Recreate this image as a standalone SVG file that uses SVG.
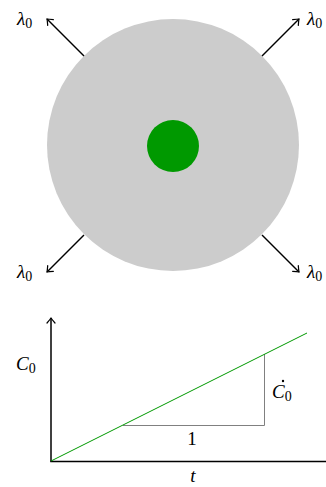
<svg xmlns="http://www.w3.org/2000/svg" width="326" height="487" viewBox="0 0 326 487">
<style>
text{font-family:'Liberation Serif','Times New Roman','DejaVu Serif',serif;font-size:19px;fill:#000}
.it{font-style:italic}
.sub{font-size:14px;font-style:normal}
.ax{stroke:#000;stroke-width:1.5;fill:none}
</style>
<defs>
<marker id="ah" viewBox="-6 -5 8 10" refX="0" refY="0" markerWidth="8" markerHeight="10" markerUnits="userSpaceOnUse" orient="auto">
<path d="M-5,-4 Q-1.5,-1 0,0 Q-1.5,1 -5,4" fill="none" stroke="#000" stroke-width="1.2" stroke-linecap="round"/>
</marker>
</defs>
<g id="outer"><circle cx="173" cy="145" r="126" fill="#cccccc"/></g>
<g id="inner"><circle cx="173" cy="146" r="26" fill="#009900"/></g>
<g id="connectors">
<line class="ax" x1="84" y1="56" x2="47" y2="19" marker-end="url(#ah)"/>
<line class="ax" x1="262" y1="56" x2="299" y2="19" marker-end="url(#ah)"/>
<line class="ax" x1="84" y1="235" x2="47" y2="272" marker-end="url(#ah)"/>
<line class="ax" x1="262" y1="235" x2="299" y2="272" marker-end="url(#ah)"/>
<line class="ax" x1="51" y1="461.5" x2="51" y2="318" marker-end="url(#ah)"/>
<line class="ax" x1="50.25" y1="461.5" x2="326" y2="461.5"/>
<polyline points="123,425.5 264.5,425.5 264.5,354" fill="none" stroke="#808080" stroke-width="1"/>
<line x1="51" y1="461" x2="307" y2="333" stroke="#009900" stroke-width="1"/>
</g>
<g id="labels">
<text x="17" y="25"><tspan class="it">λ</tspan><tspan class="sub" dy="3">0</tspan></text>
<text x="307" y="25"><tspan class="it">λ</tspan><tspan class="sub" dy="3">0</tspan></text>
<text x="17" y="278"><tspan class="it">λ</tspan><tspan class="sub" dy="3">0</tspan></text>
<text x="307" y="278"><tspan class="it">λ</tspan><tspan class="sub" dy="3">0</tspan></text>
<text x="16" y="370"><tspan class="it">C</tspan><tspan class="sub" dy="3">0</tspan></text>
<text x="272" y="398"><tspan class="it">C</tspan><tspan class="sub" dy="3">0</tspan></text>
<circle cx="283" cy="381" r="1.2" fill="#000"/>
<text x="192" y="445" text-anchor="middle">1</text>
<text class="it" x="193" y="482" text-anchor="middle">t</text>
</g>
</svg>
